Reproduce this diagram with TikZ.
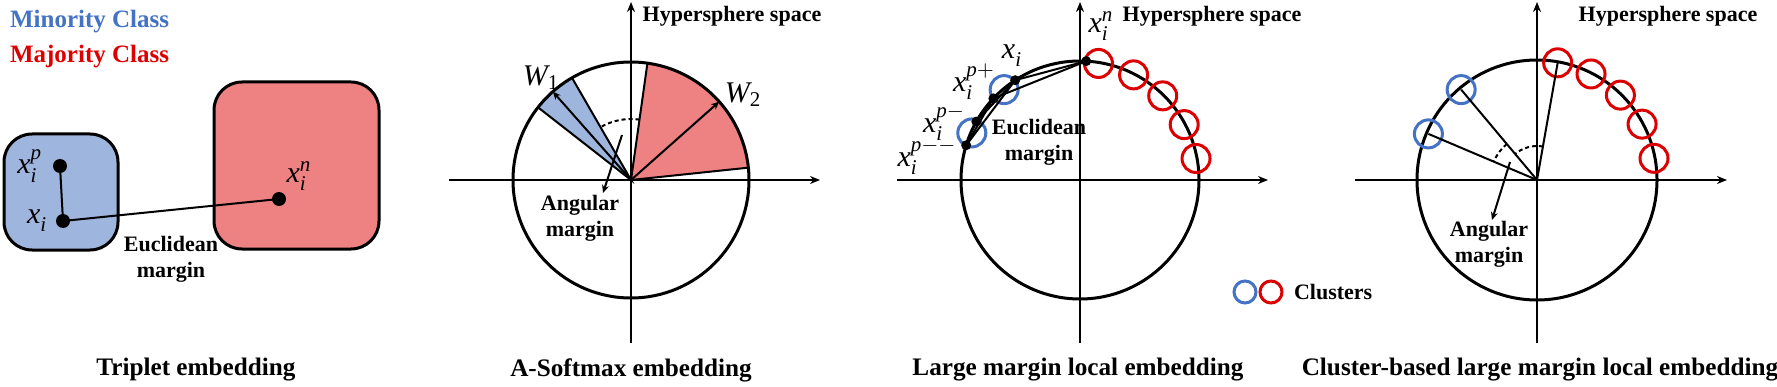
\documentclass[tikz,border=0pt]{standalone}
\usepackage{amsmath}
\usepackage{fontspec}
\setmainfont{Liberation Serif}
\usetikzlibrary{arrows.meta,positioning}
\definecolor{minblue}{RGB}{68,114,196}
\definecolor{majred}{RGB}{220,0,0}
\definecolor{boxblue}{RGB}{158,182,222}
\definecolor{boxred}{RGB}{238,130,130}
\newcommand{\xv}[2]{$\textit{x}_{\textit{#1}}^{#2}$}
\begin{document}
\begin{tikzpicture}[x=0.5pt,y=0.5pt,
  font=\bfseries\fontsize{11}{13}\selectfont,
  axis/.style={line width=1pt,-{Stealth[length=5pt,width=4pt]}},
  sphere/.style={line width=1.5pt},
  ray/.style={line width=1pt},
  pointer/.style={line width=1pt,-{Stealth[length=4pt,width=3.5pt]}},
  margarc/.style={line width=1pt,dash pattern=on 2pt off 1.5pt},
  dot/.style={circle,fill=black,inner sep=0pt,minimum size=7pt},
  smalldot/.style={circle,fill=black,inner sep=0pt,minimum size=5pt},
  vlabel/.style={font=\fontsize{15}{15}\selectfont,inner sep=0pt},
  caption/.style={font=\bfseries\fontsize{12.6}{13}\selectfont},
  cluster/.style={circle,line width=1.5pt,minimum size=14pt,inner sep=0pt},
  classbox/.style={line width=1.5pt,rounded corners=14pt}]
\useasboundingbox (0,0) rectangle (1777,386);

% Triplet embedding
\node[anchor=west,text=minblue,font=\bfseries\fontsize{12.5}{13}\selectfont] (minor) at (3,364) {Minority Class};
\node[anchor=west,text=majred,font=\bfseries\fontsize{12.5}{13}\selectfont] (major) at (3,329) {Majority Class};
\draw[classbox,fill=boxblue] (4,136) rectangle (118,252);
\draw[classbox,fill=boxred] (214,137) rectangle (379,304);
\node[dot] (xp1) at (60,220) {};
\node[dot] (xi1) at (63,165) {};
\node[dot] (xn1) at (279,187) {};
\draw[ray] (xp1.center) -- (xi1.center) -- (xn1.center);
\node[vlabel,left=5pt of xp1] (lxp1) {\xv{i}{\textit{p}}};
\node[vlabel,left=4pt of xi1] (lxi1) {\xv{i}{}};
\node[vlabel] (lxn1) at (299,210) {\xv{i}{\textit{n}}};
\node[align=center] (eu1) at (171,127) {Euclidean\\margin};
\node[caption] (cap1) at (196,16) {Triplet embedding};

% A-Softmax embedding
\begin{scope}[shift={(631,206)}]
\coordinate (o2) at (0,0);
\fill[boxblue] (o2) -- (120:118) arc[start angle=120,end angle=142,radius=118] -- cycle;
\fill[boxred] (o2) -- (6:118) arc[start angle=6,end angle=82,radius=118] -- cycle;
\draw[ray] (142:118) -- (o2) -- (120:118);
\draw[ray] (6:118) -- (o2) -- (82:118);
\draw[sphere] (o2) circle[radius=118];
\draw[axis] (-182,0) -- (189,0);
\draw[axis] (0,-163) -- (0,178);
\coordinate (w1) at (131.5:118);
\coordinate (w2) at (41.6:118);
\draw[pointer] (o2) -- (w1);
\draw[pointer] (o2) -- (w2);
\node[vlabel] (lw1) at (-90,102) {$\textit{W}_{\text{1}}$};
\node[vlabel] (lw2) at (112,85) {$\textit{W}_{\text{2}}$};
\draw[margarc] (82:61) arc[start angle=82,end angle=120,radius=61];
\coordinate (am2s) at (-9,45);
\coordinate (am2e) at (-28,-13);
\draw[pointer] (am2s) -- (am2e);
\node[align=center] (am2) at (-51,-38) {Angular\\margin};
\node (hs2) at (101,164) {Hypersphere space};
\node[caption] (cap2) at (0,-190) {A-Softmax embedding};
\end{scope}

% Large margin local embedding
\begin{scope}[shift={(1080,206)}]
\coordinate (o3) at (0,0);
\draw[sphere] (o3) circle[radius=119];
\draw[axis] (-183,0) -- (188,0);
\draw[axis] (0,-163) -- (0,178);
\foreach \a in {81,63,45.5,28,10.5}
  \node[cluster,draw=majred] at (\a:118) {};
\foreach \a in {130,156.5}
  \node[cluster,draw=minblue] at (\a:118) {};
\node[smalldot] (xn3) at (87:119) {};
\node[smalldot] (xi3) at (123:119) {};
\node[smalldot] (xpp3) at (136.7:119) {};
\node[smalldot] (xpm3) at (150.6:119) {};
\node[smalldot] (xpmm3) at (163:119) {};
\draw[ray] (xn3.center) -- (xi3.center);
\draw[ray] (xn3.center) -- (xpp3.center);
\draw[ray] (xi3.center) -- (xpm3.center);
\draw[ray] (xi3.center) -- (xpmm3.center);
\draw[ray] (xpp3.center) -- (xpmm3.center);
\node[vlabel] (lxn3) at (21,154) {\xv{i}{\textit{n}}};
\node[vlabel] (lxi3) at (-68,124) {\xv{i}{}};
\node[vlabel] (lxpp3) at (-106,98) {\xv{i}{\textit{p}+}};
\node[vlabel] (lxpm3) at (-136,57) {\xv{i}{\textit{p}-}};
\node[vlabel] (lxpmm3) at (-153,23) {\xv{i}{\textit{p}--}};
\node[align=center] (eu3) at (-41,38) {Euclidean\\margin};
\node (hs3) at (132,164) {Hypersphere space};
\node[caption] (cap3) at (-2,-190) {Large margin local embedding};
\end{scope}

% legend
\node[cluster,draw=minblue,minimum size=11pt] (legb) at (1245,94) {};
\node[cluster,draw=majred,minimum size=11pt] (legr) at (1271,94) {};
\node[anchor=west] (legt) at (1287,94) {Clusters};

% Cluster-based large margin local embedding
\begin{scope}[shift={(1537,206)}]
\coordinate (o4) at (0,0);
\draw[sphere] (o4) circle[radius=120];
\draw[axis] (-182,0) -- (190,0);
\draw[axis] (0,-163) -- (0,178);
\foreach \a/\n in {80/cr1,63/cr2,45.5/cr3,28/cr4,10.5/cr5}
  \node[cluster,draw=majred] (\n) at (\a:119) {};
\node[cluster,draw=minblue] (cb1) at (130:118) {};
\node[cluster,draw=minblue] (cb2) at (157:118) {};
\draw[ray] (o4) -- (cb1.center);
\draw[ray] (o4) -- (cb2.center);
\draw[ray] (o4) -- (cr1.center);
\draw[margarc] (130:47) arc[start angle=130,end angle=157,radius=47];
\draw[margarc] (80:34) arc[start angle=80,end angle=130,radius=34];
\coordinate (am4s) at (-27,18);
\coordinate (am4e) at (-45,-40);
\draw[pointer] (am4s) -- (am4e);
\node[align=center] (am4) at (-48,-64) {Angular\\margin};
\node (hs4) at (131,164) {Hypersphere space};
\node[caption] (cap4) at (3,-190) {Cluster-based large margin local embedding};
\end{scope}
\end{tikzpicture}
\end{document}
